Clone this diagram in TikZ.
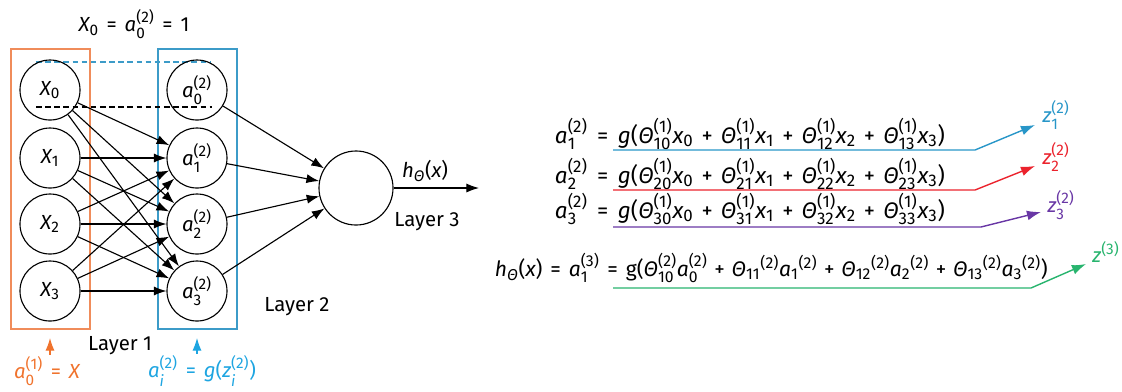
\documentclass[tikz,border=0pt]{standalone}
\usepackage{amsmath}
\usepackage{fontspec}
\setmainfont{Fira Sans}
\edef\mainfam{\rmdefault}
\DeclareSymbolFont{sanstext}{TU}{\mainfam}{m}{n}
\DeclareMathSizes{14.5}{14.5}{10.9}{8.5}
\DeclareMathSizes{15}{15}{11.2}{8.8}
\DeclareMathSizes{16}{16}{12}{9.3}
\newcommand{\sanschar}[2]{\Umathcode`#2=#1 \symsanstext `#2\relax}
\AtBeginDocument{%
  \sanschar{7}{0}\sanschar{7}{1}\sanschar{7}{2}\sanschar{7}{3}\sanschar{7}{4}%
  \sanschar{7}{5}\sanschar{7}{6}\sanschar{7}{7}\sanschar{7}{8}\sanschar{7}{9}%
  \sanschar{4}{(}\sanschar{5}{)}\sanschar{2}{+}\sanschar{3}{=}%
  \medmuskip=6mu plus 2mu minus 4mu\thickmuskip=7mu plus 5mu}
\usepackage{tikz}
\usetikzlibrary{arrows.meta,positioning}

\definecolor{boxorange}{RGB}{240,140,90}
\definecolor{txtorange}{RGB}{240,115,45}
\definecolor{boxblue}{RGB}{60,155,200}
\definecolor{txtblue}{RGB}{30,165,225}
\definecolor{rowblue}{RGB}{40,150,200}
\definecolor{rowred}{RGB}{235,35,45}
\definecolor{rowpurple}{RGB}{105,55,165}
\definecolor{rowgreen}{RGB}{40,180,110}

\newcommand{\mi}[1]{\mathit{#1}}
\newcommand{\thet}{\text{\itshape Θ}}

\begin{document}
\begin{tikzpicture}[x=0.025cm,y=-0.025cm,font=\fontsize{14.5}{17}\selectfont,line width=0.8pt]
    \tikzset{
      neuron/.style={draw, circle, minimum size=1.5cm, inner sep=0pt},
      outneuron/.style={draw, circle, minimum size=1.85cm, inner sep=0pt},
      layerbox/.style={draw, line width=1.1pt},
      conn/.style={-{Latex[length=9pt,width=6.5pt]}},
      zconn/.style={-{Latex[length=10pt,width=7pt]}, line width=1pt},
      plain/.style={inner sep=1pt},
      eqn/.style={inner sep=1pt, anchor=base west, font=\fontsize{16}{19}\selectfont}
    }
    \useasboundingbox (0,0) rectangle (1122,391);
    % layer boxes
    \draw[layerbox, boxorange] (11,49) rectangle (90,329);
    \draw[layerbox, boxblue] (158,49) rectangle (237,329);
    \draw[boxblue, dashed, dash pattern=on 4pt off 2.5pt] (36,62) -- (210,62);
    \draw[dashed, dash pattern=on 4pt off 2.5pt] (36,107) -- (212,107);
    % layer 1
    \node[neuron] (x0) at (50,90) {$\mi{X}_0$};
    \node[neuron] (x1) at (50,158) {$\mi{X}_1$};
    \node[neuron] (x2) at (50,224) {$\mi{X}_2$};
    \node[neuron] (x3) at (50,291) {$\mi{X}_3$};
    % layer 2
    \node[neuron] (h0) at (197,90) {$\mi{a}^{(2)}_0$};
    \node[neuron] (h1) at (197,158) {$\mi{a}^{(2)}_1$};
    \node[neuron] (h2) at (197,224) {$\mi{a}^{(2)}_2$};
    \node[neuron] (h3) at (197,291) {$\mi{a}^{(2)}_3$};
    % layer 3
    \node[outneuron] (out) at (356,188) {};
    \coordinate (hx) at (479,188);
    \foreach \i in {0,...,3}
      \foreach \j in {1,2,3}
        \draw[conn] (x\i) -- (h\j);
    \foreach \j in {0,...,3}
      \draw[conn] (h\j) -- (out);
    \draw[conn] (out) -- node[above=1pt, xshift=-8pt]{$\mi{h}_{\thet}(\mi{x})$} (hx);
    \node[plain] (l3) at (427,222) {Layer 3};
    \node[plain] (l2) at (297,307) {Layer 2};
    \node[plain] (l1) at (120,346) {Layer 1};
    \node[plain] (top) at (134,24) {$\mi{X}_0 = \mi{a}^{(2)}_0 = 1$};
    % bottom notes
    \node[plain, txtorange] (nin) at (47,371) {$\mi{a}^{(1)}_0 = \mi{X}$};
    \node[plain, txtblue] (nhid) at (202,371) {$\mi{a}_{\mi{i}}^{(2)} = \mi{g}(\mi{z}_{\mi{i}}^{(2)})$};
    \draw[conn, txtorange] (nin.north -| x0) -- (x0 |- 0,338);
    \draw[conn, txtblue] (nhid.north -| h0) -- (h0 |- 0,338);
    % equations
    \node[eqn] (eqa) at (553,143)
      {$\mi{a}^{(2)}_1 = \mi{g}(\thet^{(1)}_{10}\mi{x}_0 + \thet^{(1)}_{11}\mi{x}_1 + \thet^{(1)}_{12}\mi{x}_2 + \thet^{(1)}_{13}\mi{x}_3)$};
    \node[eqn] (eqb) at (553,183)
      {$\mi{a}^{(2)}_2 = \mi{g}(\thet^{(1)}_{20}\mi{x}_0 + \thet^{(1)}_{21}\mi{x}_1 + \thet^{(1)}_{22}\mi{x}_2 + \thet^{(1)}_{23}\mi{x}_3)$};
    \node[eqn] (eqc) at (553,218)
      {$\mi{a}^{(2)}_3 = \mi{g}(\thet^{(1)}_{30}\mi{x}_0 + \thet^{(1)}_{31}\mi{x}_1 + \thet^{(1)}_{32}\mi{x}_2 + \thet^{(1)}_{33}\mi{x}_3)$};
    \node[eqn, font=\fontsize{15}{18}\selectfont] (eqd) at (493,276)
      {$\mi{h}_{\thet}(\mi{x}) = \mi{a}^{(3)}_1 = \mathrm{g}(\thet^{(2)}_{10}\mi{a}^{(2)}_0 + \thet_{11}{}^{(2)}\mi{a}_1{}^{(2)} + \thet_{12}{}^{(2)}\mi{a}_2{}^{(2)} + \thet_{13}{}^{(2)}\mi{a}_3{}^{(2)})$};
    \node[plain, rowblue] (z1) at (1056,115) {$\mi{z}^{(2)}_1$};
    \node[plain, rowred] (z2) at (1056,157) {$\mi{z}^{(2)}_2$};
    \node[plain, rowpurple] (z3) at (1061,205) {$\mi{z}^{(2)}_3$};
    \node[plain, rowgreen] (z4) at (1106,252) {$\mi{z}^{(3)}$};
    \coordinate (t1) at (1035,125);
    \coordinate (t2) at (1035,166);
    \coordinate (t3) at (1041,212);
    \coordinate (t4) at (1086,264);
    \draw[zconn, rowblue] (613,150) -- (975,150) -- (t1);
    \draw[zconn, rowred] (613,190) -- (975,190) -- (t2);
    \draw[zconn, rowpurple] (613,227) -- (981,227) -- (t3);
    \draw[zconn, rowgreen] (613,288) -- (1031,288) -- (t4);
  \end{tikzpicture}
\end{document}
